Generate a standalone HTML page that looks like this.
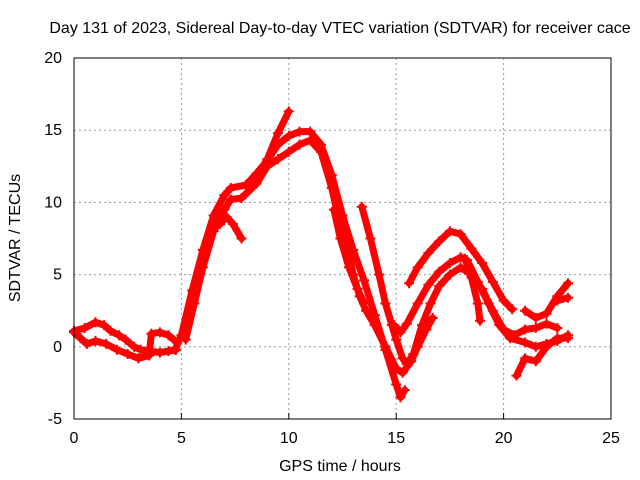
<!DOCTYPE html>
<html><head><meta charset="utf-8"><style>
body{margin:0;background:#fff}
svg{display:block;font-family:"Liberation Sans",sans-serif}
</style></head><body>
<svg id="chart" width="640" height="480">
<text x="340" y="33" text-anchor="middle" font-size="16">Day 131 of 2023, Sidereal Day-to-day VTEC variation (SDTVAR) for receiver cace</text>
<text x="340" y="471" text-anchor="middle" font-size="16">GPS time / hours</text>
<text transform="translate(20,238) rotate(-90)" text-anchor="middle" font-size="16">SDTVAR / TECUs</text>
<g id="grid"></g><g id="series"></g>
<rect x="74" y="58" width="537" height="361" fill="none" stroke="#000" stroke-width="1"/>
</svg>
<script>
const xTicks=[0,5,10,15,20,25];
const yTicks=[-5,0,5,10,15,20];
const s1=[[0,1.1],[0.5,1.3],[1,1.7],[1.4,1.5],[1.7,1.1],[2.1,0.8],[2.4,0.5],[2.8,0],[3.1,-0.2],[3.5,-0.3],[4,-0.4],[4.4,-0.3],[4.75,-0.2]];
const s2=[[0,1],[0.3,0.6],[0.6,0.2],[1,0.4],[1.5,0.2],[2,-0.2],[2.5,-0.5],[3,-0.8],[3.5,-0.6],[3.6,0.9],[4,1],[4.4,0.8],[4.8,0.3]];
const s3=[[4.7,-0.2],[5,0.8],[5.5,3.9],[6,6.7],[6.5,9.1],[7,10.5],[7.3,11],[8,11.2],[8.5,12],[9,12.9],[9.5,14],[10,14.6],[10.5,14.9],[11,14.9],[11.5,14],[12,11.9],[12.5,9.1],[13,6.7],[13.5,4.6],[14,2.2],[14.5,-0.2],[15,-2.6],[15.2,-3.5],[15.4,-3.0]];
const s4=[[5.2,0.5],[5.6,3],[6,5.5],[6.5,8],[7,9.5],[7.3,10.2],[7.8,10.3],[8.5,11.3],[9,12.5],[9.5,13],[10,13.5],[10.5,14],[11,14.3],[11.5,13.5],[12,11],[12.3,9],[12.7,7],[13,5],[13.3,3.5],[13.6,2.5],[14,1.5],[14.5,0],[15,-1.5],[15.3,-1.8],[15.7,-1],[16,0],[16.4,1.2],[16.7,2]];
const s5=[[8.5,11.6],[9,13],[9.5,14.8],[10,16.3]];
const s6=[[6.8,8.5],[7.1,9],[7.4,8.5],[7.8,7.5]];
const s7=[[12.1,9.5],[12.4,7.5],[12.8,5.5],[13.2,4],[13.5,3]];
const s8=[[13.4,9.7],[13.8,7.5],[14.2,5],[14.5,3],[14.8,1.5],[15,0.5],[15.3,-0.8],[15.5,-1.2],[15.8,-0.5],[16.2,1.5],[16.6,3],[17,4.2],[17.5,5],[18,5.5],[18.5,5],[19,4],[19.5,2.5],[20,1.2],[20.5,0.8],[21,1.2],[21.5,1.3],[22,1.6],[22.5,1.3]];
const s9=[[14.9,1.5],[15.2,1.0],[15.5,1.6],[16,3],[16.5,4.3],[17,5.2],[17.5,5.8],[18,6.2],[18.2,6.1],[18.5,4.8],[18.8,3],[18.9,1.8]];
const s10=[[15.6,4.4],[16,5.5],[16.5,6.5],[17,7.3],[17.5,8],[18,7.8],[18.5,6.8],[19,5.8],[19.5,4.5],[20,3.2],[20.4,2.6]];
const s11=[[18.3,6],[18.8,4.5],[19.3,3],[19.8,1.5],[20.3,0.6],[21,0.3],[21.5,0],[22,0.2],[22.5,0.4],[23,0.8]];
const s12=[[20.6,-2],[21,-0.8],[21.5,-1],[22,0],[22.5,0.6],[23,0.6]];
const s13=[[21,2.5],[21.5,2],[22,2.3],[22.5,3.5],[23,4.4]];
const s14=[[22.5,3.2],[23,3.4]];
const series=[s1,s2,s3,s4,s5,s6,s7,s8,s9,s10,s11,s12,s13,s14];
const X=t=>74+t*21.48, Y=v=>346.8-v*14.44;
const NS="http://www.w3.org/2000/svg";
const svg=document.getElementById('chart'),grid=document.getElementById('grid'),ser=document.getElementById('series');
function mk(tag,at,par){const e=document.createElementNS(NS,tag);for(const k in at)e.setAttribute(k,at[k]);par.appendChild(e);return e;}
xTicks.forEach(t=>{
 if(t>0&&t<25){const g=mk('line',{x1:X(t),x2:X(t),y1:58,y2:419,stroke:'#999','stroke-dasharray':'2,3'},grid);
 
 }
 const tk=mk('line',{x1:X(t),x2:X(t),y1:419,y2:413,stroke:'#000'},grid);
 
 
 const l=mk('text',{x:X(t),y:443,'text-anchor':'middle','font-size':'16'},svg);l.textContent=t;
 
 
});
yTicks.forEach(v=>{
 if(v>-5&&v<20){const g=mk('line',{x1:74,x2:611,y1:Y(v),y2:Y(v),stroke:'#999','stroke-dasharray':'2,3'},grid);
 
 }
 const l=mk('text',{x:62,y:Y(v)+5,'text-anchor':'end','font-size':'16'},svg);l.textContent=v;
 
 
});
series.forEach((s,i)=>{
 const p=mk('polyline',{points:s.map(d=>X(d[0])+','+Y(d[1])).join(' '),fill:'none',stroke:'#f00','stroke-width':7,'stroke-linejoin':'round','stroke-linecap':'round'},ser);
 
 
 s.forEach(d=>{
  const m=mk('path',{d:`M${X(d[0])-5},${Y(d[1])}h10M${X(d[0])},${Y(d[1])-5}v10`,stroke:'#f00','stroke-width':2},ser);
  
  
 });
});
</script>
</body></html>
